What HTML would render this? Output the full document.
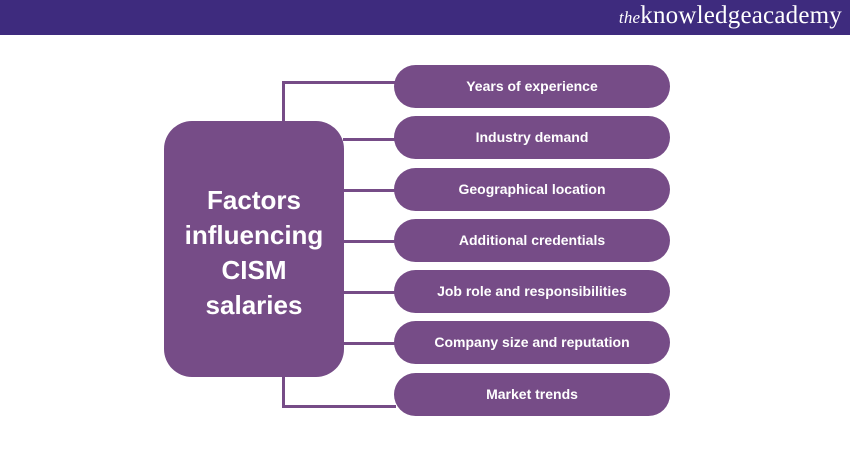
<!DOCTYPE html>
<html><head><style>
body{margin:0;width:850px;height:450px;background:#fff;position:relative;overflow:hidden;font-family:"Liberation Sans",sans-serif}
.hdr{position:absolute;left:0;top:0;width:850px;height:35px;background:#3e2b7e}
.logo{position:absolute;right:8px;top:2px;color:#fff;font-family:"Liberation Serif",serif;font-size:25px;letter-spacing:0.2px}
.logo i{font-size:17px}
.main{position:absolute;left:164px;top:121px;width:180px;height:256px;background:#764c87;border-radius:28px;color:#fff;font-weight:bold;font-size:26px;line-height:35px;display:flex;align-items:center;justify-content:center;text-align:center;padding-top:8px;box-sizing:border-box}
.pill{position:absolute;left:394px;width:276px;height:43px;background:#764c87;border-radius:22px;color:#fff;font-weight:bold;font-size:14px;display:flex;align-items:center;justify-content:center;padding-bottom:2px;box-sizing:border-box}
.l{position:absolute;background:#764c87}
</style></head><body>
<div class="hdr"><div class="logo"><i>the</i>knowledgeacademy</div></div>
<div class="l" style="left:282px;top:81px;width:3px;height:42px"></div>
<div class="l" style="left:282px;top:81px;width:114px;height:3px"></div>
<div class="l" style="left:282px;top:376px;width:3px;height:32px"></div>
<div class="l" style="left:282px;top:405px;width:114px;height:3px"></div>
<div class="l" style="left:343px;top:138px;width:53px;height:3px"></div>
<div class="l" style="left:343px;top:189px;width:53px;height:3px"></div>
<div class="l" style="left:343px;top:240px;width:53px;height:3px"></div>
<div class="l" style="left:343px;top:291px;width:53px;height:3px"></div>
<div class="l" style="left:343px;top:342px;width:53px;height:3px"></div>
<div class="main">Factors<br>influencing<br>CISM<br>salaries</div>
<div class="pill" style="top:65px">Years of experience</div>
<div class="pill" style="top:116px">Industry demand</div>
<div class="pill" style="top:168px">Geographical location</div>
<div class="pill" style="top:219px">Additional credentials</div>
<div class="pill" style="top:270px">Job role and responsibilities</div>
<div class="pill" style="top:321px">Company size and reputation</div>
<div class="pill" style="top:373px">Market trends</div>
</body></html>
